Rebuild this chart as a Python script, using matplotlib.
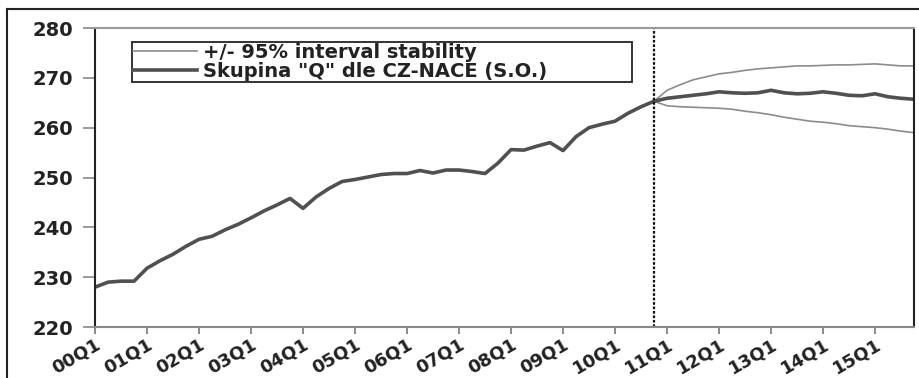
import matplotlib
matplotlib.use("Agg")
import matplotlib.pyplot as plt
from matplotlib.lines import Line2D
import numpy as np

# quarterly index, 2000Q1 .. 2010Q4 (observed)
history = [228.0, 229.0, 229.2, 229.2, 231.8, 233.3, 234.6, 236.2,
           237.6, 238.2, 239.5, 240.6, 241.9, 243.3, 244.5, 245.8,
           243.8, 246.1, 247.8, 249.2, 249.6, 250.1, 250.6, 250.8,
           250.8, 251.4, 250.9, 251.5, 251.5, 251.2, 250.8, 252.9,
           255.6, 255.5, 256.3, 257.0, 255.4, 258.2, 260.0, 260.7,
           261.3, 262.9, 264.2, 265.3]

# forecast 2010Q4 .. 2015Q4 with 95% stability interval
forecast = [265.3, 265.9, 266.2, 266.5, 266.8, 267.2, 267.0, 266.9,
            267.0, 267.5, 267.0, 266.8, 266.9, 267.2, 266.9, 266.5,
            266.4, 266.8, 266.2, 265.9, 265.7]
upper = [265.3, 267.5, 268.6, 269.6, 270.2, 270.8, 271.1, 271.5,
         271.8, 272.0, 272.2, 272.4, 272.4, 272.5, 272.6, 272.6,
         272.7, 272.8, 272.6, 272.4, 272.4]
lower = [265.3, 264.4, 264.2, 264.1, 264.0, 263.9, 263.7, 263.3,
         263.0, 262.6, 262.1, 261.7, 261.3, 261.1, 260.8, 260.4,
         260.2, 260.0, 259.7, 259.3, 259.0]

tick_labels = ["00Q1", "01Q1", "02Q1", "03Q1", "04Q1", "05Q1", "06Q1", "07Q1",
               "08Q1", "09Q1", "10Q1", "11Q1", "12Q1", "13Q1", "14Q1", "15Q1"]

plt.rcParams["font.family"] = ["DejaVu Sans"]

fig = plt.figure(figsize=(9.19, 3.78), dpi=100)
ax = fig.add_axes([0.1034, 0.1349, 0.8912, 0.791])

t_hist = np.arange(len(history))
t_fc = np.arange(len(history) - 1, len(history) - 1 + len(forecast))

band_color = "#8c8c8c"
main_color = "#505050"

ax.plot(t_fc, upper, color=band_color, lw=1.2, label="+/- 95% interval stability")
ax.plot(t_fc, lower, color=band_color, lw=1.2)
ax.plot(t_hist, history, color=main_color, lw=2.6,
        label='Skupina "Q" dle CZ-NACE (S.O.)')
ax.plot(t_fc, forecast, color=main_color, lw=2.6)

# start of the forecast
ax.axvline(len(history) - 1, color="#111111", lw=1.6, ls=(0, (1.2, 0.8)))

ax.set_xlim(0, t_fc[-1])
ax.set_ylim(220, 280)
ax.set_yticks(np.arange(220, 281, 10))
ax.set_xticks(np.arange(0, 4 * len(tick_labels), 4))
ax.set_xticklabels(tick_labels, rotation=30, ha="right", va="top",
                   rotation_mode="anchor", fontsize=13, fontweight="bold",
                   color="#222222")
for lab in ax.get_yticklabels():
    lab.set_fontsize(14)
    lab.set_fontweight("bold")
    lab.set_color("#222222")

ax.tick_params(axis="y", length=9, width=1.2, color="#888888", pad=7)
ax.tick_params(axis="x", length=5, width=1.2, color="#777777", pad=1)

ax.spines["top"].set_color("#9a9a9a")
ax.spines["bottom"].set_color("#888888")
ax.spines["left"].set_color("#222222")
ax.spines["right"].set_color("#222222")
for s in ax.spines.values():
    s.set_linewidth(1.5)

# legend box stretched over its slot in the upper left
leg = ax.legend(loc="upper left", bbox_to_anchor=(0.045, 0.823, 0.611, 0.13),
                mode="expand", prop={"weight": "bold", "size": 14},
                frameon=True, fancybox=False, framealpha=1,
                edgecolor="#333333", borderpad=0.05, labelspacing=0.0,
                handlelength=3.3, handletextpad=0.3, borderaxespad=0)
leg.get_frame().set_linewidth(1.4)
for txt in leg.get_texts():
    txt.set_color("#222222")

# page frame around the figure
fig.add_artist(Line2D([7 / 919, 1], [1 - 9 / 378, 1 - 9 / 378],
                      transform=fig.transFigure, color="#222222", lw=1.5))
fig.add_artist(Line2D([7 / 919, 7 / 919], [0, 1 - 9 / 378],
                      transform=fig.transFigure, color="#222222", lw=1.5))

fig.savefig("out.png", dpi=100)
